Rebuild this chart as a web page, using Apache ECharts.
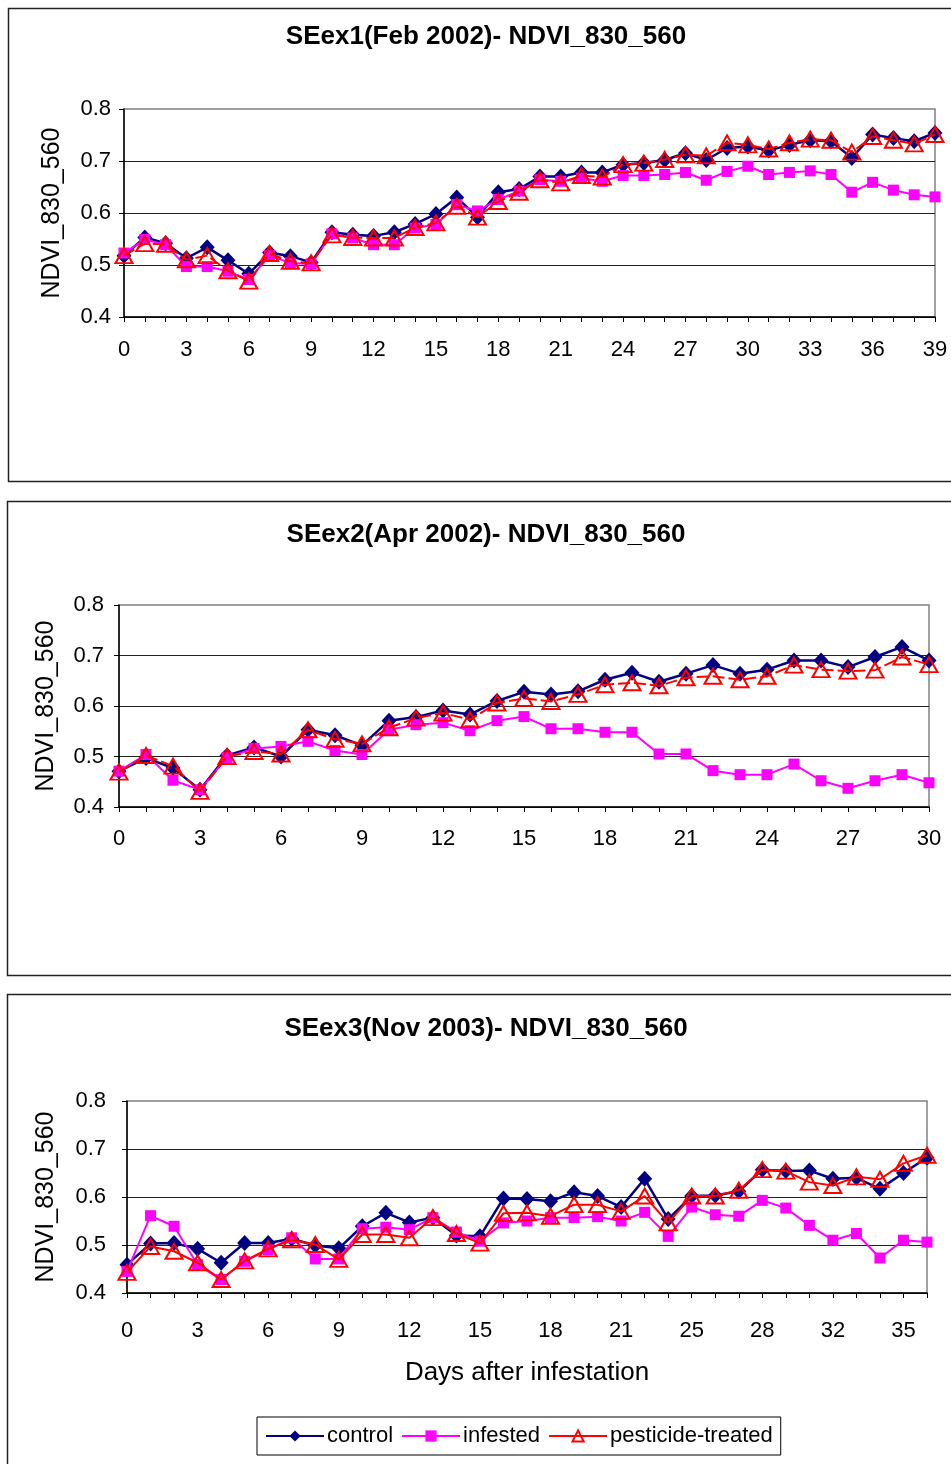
<!DOCTYPE html>
<html><head><meta charset="utf-8">
<script src="https://cdn.jsdelivr.net/npm/echarts@6/dist/echarts.min.js"></script>
<style>html,body{margin:0;padding:0;background:#fff}#c{width:951px;height:1464px}</style>
</head><body><div id="c"></div>
<script>
// ---- data ----
const panelTitles = ['SEex1(Feb 2002)- NDVI_830_560', 'SEex2(Apr 2002)- NDVI_830_560', 'SEex3(Nov 2003)- NDVI_830_560'];
const yAxisTitle = 'NDVI_830_560';
const xAxisTitle = 'Days after infestation';
const seriesNames = ['control', 'infested', 'pesticide-treated'];

const days1 = ['0','1','2','3','4','5','6','7','8','9','10','11','12','13','14','15','16','17','18','19','20','21','22','23','24','25','26','27','28','29','30','31','32','33','34','35','36','37','38','39'];
const control1 = [0.518,0.553,0.542,0.513,0.534,0.509,0.483,0.524,0.517,0.505,0.563,0.558,0.556,0.563,0.579,0.598,0.630,0.592,0.640,0.646,0.670,0.670,0.678,0.678,0.693,0.696,0.702,0.715,0.702,0.725,0.728,0.720,0.731,0.740,0.738,0.706,0.751,0.744,0.738,0.754];
const infested1 = [0.523,0.549,0.539,0.497,0.497,0.488,0.472,0.518,0.504,0.502,0.560,0.552,0.539,0.539,0.571,0.578,0.616,0.604,0.626,0.642,0.664,0.661,0.667,0.661,0.672,0.672,0.674,0.678,0.663,0.680,0.690,0.674,0.678,0.681,0.674,0.640,0.659,0.644,0.635,0.631];
const pesticide1 = [0.518,0.541,0.540,0.510,0.518,0.489,0.469,0.522,0.507,0.504,0.558,0.553,0.552,0.552,0.572,0.581,0.613,0.592,0.622,0.640,0.664,0.658,0.672,0.669,0.693,0.696,0.703,0.712,0.710,0.735,0.731,0.723,0.735,0.742,0.740,0.717,0.747,0.740,0.733,0.751];

const days2 = ['0','1','2','3','4','5','6','7','8','9','10','11','12','13','14','15','16','17','18','19','20','21','22','23','24','25','26','27','28','29','30'];
const control2 = [0.471,0.497,0.477,0.434,0.502,0.518,0.500,0.553,0.542,0.522,0.571,0.578,0.591,0.583,0.610,0.628,0.623,0.629,0.652,0.666,0.648,0.664,0.681,0.664,0.672,0.690,0.690,0.677,0.697,0.717,0.690];
const infested2 = [0.471,0.504,0.453,0.434,0.498,0.516,0.520,0.530,0.512,0.504,0.553,0.563,0.567,0.551,0.571,0.579,0.555,0.555,0.548,0.548,0.505,0.505,0.472,0.464,0.464,0.485,0.452,0.437,0.452,0.464,0.448];
const pesticide2 = [0.469,0.502,0.481,0.431,0.500,0.510,0.505,0.553,0.534,0.525,0.557,0.576,0.586,0.573,0.606,0.615,0.609,0.623,0.642,0.646,0.640,0.656,0.659,0.652,0.659,0.681,0.672,0.669,0.671,0.697,0.682];

const days3 = ['0','1','2','3','4','5','6','7','8','9','10','11','12','13','14','15','16','17','18','19','20','21','22','24','25','26','27','28','29','31','32','33','34','35','36'];
const control3 = [0.459,0.503,0.504,0.492,0.463,0.504,0.504,0.513,0.499,0.493,0.539,0.567,0.547,0.557,0.520,0.518,0.597,0.596,0.591,0.610,0.602,0.579,0.638,0.554,0.602,0.603,0.612,0.657,0.654,0.655,0.638,0.640,0.617,0.650,0.682];
const infested3 = [0.445,0.561,0.539,0.459,0.428,0.466,0.490,0.515,0.471,0.471,0.534,0.537,0.532,0.557,0.527,0.508,0.546,0.550,0.557,0.557,0.559,0.550,0.568,0.518,0.579,0.563,0.560,0.593,0.577,0.541,0.510,0.524,0.473,0.510,0.506];
const pesticide3 = [0.443,0.497,0.487,0.463,0.428,0.467,0.492,0.511,0.501,0.470,0.522,0.522,0.515,0.557,0.524,0.504,0.566,0.567,0.560,0.584,0.584,0.570,0.602,0.546,0.602,0.602,0.614,0.657,0.654,0.631,0.624,0.642,0.637,0.670,0.687];

const yMin = 0.4, yMax = 0.8, yStep = 0.1;

// ---- layout / style ----
const FONT = '"Liberation Sans", Arial, sans-serif';
const panels = [
  {days: days1, data: [control1, infested1, pesticide1], grid: {left: 124, top: 109, width: 811, height: 208}, dashed: true,
   titleTop: 19, yLabelMargin: 13, xLabelMargin: 22, yNameGap: 59, box: [8.5, 8.5, 1000, 473]},
  {days: days2, data: [control2, infested2, pesticide2], grid: {left: 119, top: 605, width: 810, height: 202}, dashed: true,
   titleTop: 517, yLabelMargin: 15, xLabelMargin: 21, yNameGap: 60, box: [7.5, 501.5, 1000, 474]},
  {days: days3, data: [control3, infested3, pesticide3], grid: {left: 127, top: 1101, width: 800, height: 192}, dashed: false,
   titleTop: 1011, yLabelMargin: 21, xLabelMargin: 27, yNameGap: 68, box: [7.5, 994.5, 1000, 520]}
];

const grids = [], xAxes = [], yAxes = [], series = [], titles = [], graphics = [];
panels.forEach((p, i) => {
  graphics.push({type: 'rect', shape: {x: p.box[0], y: p.box[1], width: p.box[2], height: p.box[3]},
    style: {fill: 'none', stroke: '#222', lineWidth: 1.5}, z: -10, silent: true});
  titles.push({text: panelTitles[i], left: 481, top: p.titleTop, textAlign: 'center',
    textStyle: {fontFamily: FONT, fontWeight: 'bold', fontSize: 26, color: '#000'}});
  grids.push(Object.assign({show: true, borderColor: '#808080', borderWidth: 1.5, backgroundColor: '#fff'}, p.grid));
  xAxes.push({
    type: 'category', gridIndex: i, data: p.days, boundaryGap: false,
    axisLine: {lineStyle: {color: '#000', width: 1.5}},
    axisTick: {show: true, interval: 0, length: 5, lineStyle: {color: '#000', width: 1}},
    axisLabel: {interval: 2, margin: p.xLabelMargin, fontFamily: FONT, fontSize: 22, color: '#000'},
    splitLine: {show: false},
    name: i === 2 ? xAxisTitle : '', nameLocation: 'middle', nameGap: 67,
    nameTextStyle: {fontFamily: FONT, fontSize: 26, color: '#000'}
  });
  yAxes.push({
    type: 'value', gridIndex: i, min: yMin, max: yMax, interval: yStep,
    axisLine: {show: true, lineStyle: {color: '#000', width: 1.5}},
    axisTick: {show: true, length: 5, lineStyle: {color: '#000', width: 1}},
    axisLabel: {margin: p.yLabelMargin, fontFamily: FONT, fontSize: 22, color: '#000', formatter: v => v.toFixed(1)},
    splitLine: {show: true, showMaxLine: false, lineStyle: {color: '#222', width: 1.2}},
    name: yAxisTitle, nameLocation: 'middle', nameRotate: 90, nameGap: p.yNameGap,
    nameTextStyle: {fontFamily: FONT, fontSize: 25, color: '#000'}
  });
  series.push({
    name: seriesNames[0], type: 'line', xAxisIndex: i, yAxisIndex: i, data: p.data[0],
    symbol: 'diamond', symbolSize: [15, 16], showAllSymbol: true, itemStyle: {color: '#000080'},
    lineStyle: {color: '#000080', width: 2.5}, animation: false, z: 2
  });
  series.push({
    name: seriesNames[1], type: 'line', xAxisIndex: i, yAxisIndex: i, data: p.data[1],
    symbol: 'rect', symbolSize: 11, showAllSymbol: true, itemStyle: {color: '#FF00FF'},
    lineStyle: {color: '#FF00FF', width: 2}, animation: false, z: 3
  });
  series.push({
    name: seriesNames[2], type: 'line', xAxisIndex: i, yAxisIndex: i, data: p.data[2],
    symbol: 'triangle', symbolSize: [17, 15], showAllSymbol: true,
    itemStyle: {color: 'rgba(255,255,255,0)', borderColor: '#FF0000', borderWidth: 2},
    lineStyle: {color: '#FF0000', width: 2, type: p.dashed ? [12, 4] : 'solid'}, animation: false, z: 4
  });
});

const chart = echarts.init(document.getElementById('c'), null, {renderer: 'canvas'});
chart.setOption({
  backgroundColor: '#fff',
  animation: false,
  title: titles,
  grid: grids,
  xAxis: xAxes,
  yAxis: yAxes,
  series: series,
  graphic: graphics,
  legend: {
    data: [
      {name: 'control'},
      {name: 'infested'},
      {name: 'pesticide-treated', lineStyle: {type: 'solid'}}
    ],
    left: 257, top: 1417, padding: [8, 8, 8, 8],
    borderColor: '#000', borderWidth: 1, backgroundColor: '#fff',
    itemWidth: 58, itemHeight: 14, itemGap: 8,
    textStyle: {fontFamily: FONT, fontSize: 22, color: '#000', padding: [0, 0, 0, -2]}
  }
});
</script>
</body></html>
